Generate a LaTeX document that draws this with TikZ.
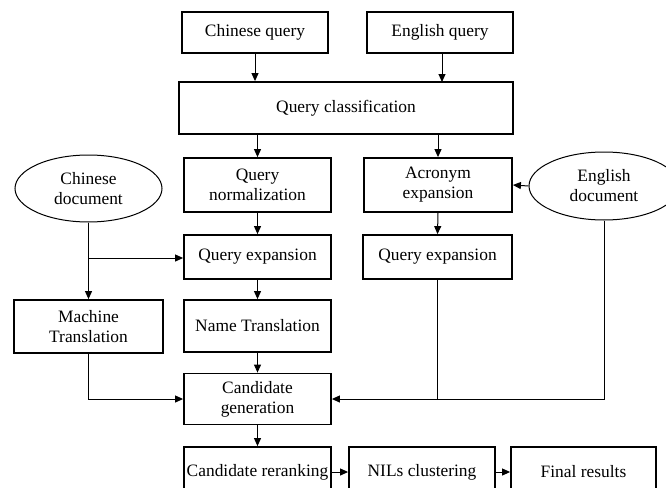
\documentclass[tikz,border=0pt]{standalone}
\usepackage{fontspec}
\setmainfont{Liberation Serif}
\usetikzlibrary{arrows.meta,shapes.geometric}
\begin{document}
\begin{tikzpicture}[x=1pt,y=-1pt,
  box/.style={draw,line width=1.8pt,rectangle,inner sep=0pt,align=center,font=\fontsize{17.4}{20}\selectfont},
  doc/.style={draw,line width=1pt,ellipse,inner sep=0pt,align=center,font=\fontsize{17.4}{20}\selectfont},
  conn/.style={line width=1pt},
  arr/.style={conn,-{Triangle[length=8pt,width=7pt]}}]
\useasboundingbox (0,0) rectangle (666,487);
\clip (0,0) rectangle (666,487);
\node[box,minimum width=146pt,minimum height=41pt] (cq) at (255,32.5) {Chinese query};
\node[box,minimum width=146pt,minimum height=41pt] (eq) at (440,32.5) {English query};
\node[box,minimum width=334pt,minimum height=52pt] (qc) at (346,108) {Query classification};
\node[box,minimum width=147pt,minimum height=54pt] (qn) at (257.5,185) {Query\\normalization};
\node[box,minimum width=148pt,minimum height=54pt] (ae) at (438,185) {Acronym\\expansion};
\node[box,minimum width=147pt,minimum height=44pt] (qea) at (257.5,257) {Query expansion};
\node[box,minimum width=149pt,minimum height=44pt] (qeb) at (437.5,257) {Query expansion};
\node[box,minimum width=149pt,minimum height=53pt] (mt) at (88.5,326.5) {Machine\\Translation};
\node[box,minimum width=147pt,minimum height=52pt] (nt) at (257.5,326) {Name Translation};
\node[box,minimum width=147pt,minimum height=51pt] (cg) at (257.5,399) {Candidate\\generation};
\node[box,minimum width=147pt,minimum height=50pt] (cr) at (257.5,472) {Candidate reranking};
\node[box,minimum width=146pt,minimum height=50pt] (nc) at (422,472) {NILs clustering};
\node[box,minimum width=145pt,minimum height=50pt] (fr) at (583.5,472) {Final results};
\node[doc,minimum width=147pt,minimum height=67pt] (cd) at (88.5,188.5) {Chinese\\document};
\node[doc,minimum width=150pt,minimum height=68pt] (ed) at (604,186) {English\\document};
\coordinate (br) at (88.5,258);
\draw[arr] (cq.south) -- (cq.south |- qc.north);
\draw[arr] (442,53) -- (442,82);
\draw[arr] (qn.north |- qc.south) -- (qn.north);
\draw[arr] (ae.north |- qc.south) -- (ae.north);
\draw[arr] (qn.south) -- (qea.north);
\draw[arr] (ae.south) -- (qeb.north);
\draw[arr] (qea.south) -- (nt.north);
\draw[arr] (nt.south) -- (cg.north);
\draw[arr] (cg.south) -- (cr.north);
\draw[arr] (ed.west) -- (ae.east);
\draw[arr] (cd.south) -- (mt.north);
\draw[arr] (br) -- (br -| qea.west);
\draw[arr] (mt.south) -- (mt.south |- cg.west) -- (cg.west);
\draw[conn] (qeb.south) -- (qeb.south |- cg.east);
\draw[arr] (ed.south) -- (ed.south |- cg.east) -- (cg.east);
\draw[arr] (cr.east) -- (nc.west);
\draw[arr] (nc.east) -- (fr.west);
\end{tikzpicture}
\end{document}
